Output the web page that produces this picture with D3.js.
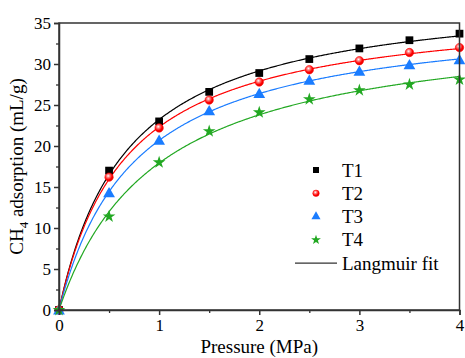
<!DOCTYPE html>
<html><head><meta charset="utf-8">
<script src="https://cdn.jsdelivr.net/npm/d3@7"></script>
<style>body{margin:0;background:#fff}svg{display:block}text{font-family:"Liberation Serif","Times New Roman","DejaVu Serif",serif}</style>
</head><body>
<svg id="c" width="465" height="358"></svg>
<script>
const pressure = [0, 0.5, 1, 1.5, 2, 2.5, 3, 3.5, 4];
const T1 = [0, 17.0, 23.0, 26.6, 28.9, 30.6, 31.9, 32.9, 33.7];
const T2 = [0, 16.2, 22.2, 25.6, 27.8, 29.3, 30.4, 31.4, 32.0];
const T3 = [0, 14.3, 20.7, 24.3, 26.4, 28.0, 29.1, 29.9, 30.5];
const T4 = [0, 11.4, 18.0, 21.8, 24.1, 25.7, 26.8, 27.5, 28.1];
const seriesNames = ["T1", "T2", "T3", "T4"];
const xTicks = [0, 1, 2, 3, 4];
const yTicks = [0, 5, 10, 15, 20, 25, 30, 35];
const colors = ["#000000", "#ff0000", "#1a7cff", "#22a822"];
const symbols = [d3.symbolSquare, d3.symbolCircle, d3.symbolTriangle, d3.symbolStar];
const symSizes = [60, 55, 60, 50];
const allSeries = [T1, T2, T3, T4];

// Langmuir fit V = VL*P/(PL+P), least squares fitted to each measured series
function langmuirFit(vals) {
  let best = null;
  for (let PL = 0.05; PL <= 3; PL += 0.001) {
    let sfv = 0, sff = 0;
    pressure.forEach((p, i) => { const f = p / (PL + p); sfv += f * vals[i]; sff += f * f; });
    const VL = sfv / sff;
    let sse = 0;
    pressure.forEach((p, i) => { const r = vals[i] - VL * p / (PL + p); sse += r * r; });
    if (!best || sse < best.sse) best = {PL, VL, sse};
  }
  return best;
}

const svg = d3.select("#c");
const m = {l: 59, r: 5, t: 23, b: 48};
const W = 465, H = 358;
const x = d3.scaleLinear().domain([0, 4]).range([m.l, W - m.r - 0.5]);
const y = d3.scaleLinear().domain([0, 35]).range([H - m.b, m.t]);

const defs = svg.append("defs");
const g = defs.append("radialGradient").attr("id", "redball").attr("cx", "40%").attr("cy", "35%").attr("r", "65%");
g.append("stop").attr("offset", "0%").attr("stop-color", "#ffffff");
g.append("stop").attr("offset", "30%").attr("stop-color", "#ff8080");
g.append("stop").attr("offset", "70%").attr("stop-color", "#ff0000");
g.append("stop").attr("offset", "100%").attr("stop-color", "#e00000");
const fillFor = i => i === 1 ? "url(#redball)" : colors[i];

// fitted curves
const pGrid = d3.range(0, 4.0001, 0.01);
const line = d3.line().x(d => x(d[0])).y(d => y(d[1]));
allSeries.forEach((s, i) => {
  const fit = langmuirFit(s);
  const pts = pGrid.map(p => [p, fit.VL * p / (fit.PL + p)]);
  svg.append("path").attr("d", line(pts)).attr("fill", "none").attr("stroke", colors[i]).attr("stroke-width", 1.2);
});

// markers
allSeries.forEach((s, i) => {
  const sym = d3.symbol().type(symbols[i]).size(symSizes[i]);
  svg.append("g").selectAll("path").data(s).join("path")
    .attr("d", sym)
    .attr("transform", (d, j) => `translate(${x(pressure[j])},${y(d) + (i === 2 ? 1 : 0)})`)
    .attr("fill", fillFor(i))
    .attr("stroke", i === 1 ? "#ff0000" : "none").attr("stroke-width", 0.6);
});

// frame
svg.append("rect").attr("x", x(0)).attr("y", y(35)).attr("width", x(4) - x(0)).attr("height", y(0) - y(35))
  .attr("fill", "none").attr("stroke", "#333").attr("stroke-width", 1.5);

// axes
const xAxis = d3.axisBottom(x).tickValues(xTicks).tickFormat(d3.format("d")).tickSize(5).tickPadding(4);
const gx = svg.append("g").attr("transform", `translate(0,${y(0)})`).call(xAxis);
gx.select(".domain").attr("stroke", "#333").attr("stroke-width", 1.5);
gx.selectAll(".tick line").attr("stroke", "#333").attr("stroke-width", 1.5);
gx.selectAll("text").attr("font-size", 17).attr("fill", "#000");
const xMinor = d3.axisBottom(x).tickValues([0.5, 1.5, 2.5, 3.5]).tickSize(3).tickFormat("");
const gxm = svg.append("g").attr("transform", `translate(0,${y(0)})`).call(xMinor);
gxm.select(".domain").remove();
gxm.selectAll(".tick line").attr("stroke", "#333").attr("stroke-width", 1.3);

const yAxis = d3.axisLeft(y).tickValues(yTicks).tickFormat(d3.format("d")).tickSize(5).tickPadding(3);
const gy = svg.append("g").attr("transform", `translate(${x(0)},0)`).call(yAxis);
gy.select(".domain").attr("stroke", "#333").attr("stroke-width", 1.5);
gy.selectAll(".tick line").attr("stroke", "#333").attr("stroke-width", 1.5);
gy.selectAll("text").attr("font-size", 17).attr("fill", "#000");
const yMinor = d3.axisLeft(y).tickValues([2.5, 7.5, 12.5, 17.5, 22.5, 27.5, 32.5]).tickSize(3).tickFormat("");
const gym = svg.append("g").attr("transform", `translate(${x(0)},0)`).call(yMinor);
gym.select(".domain").remove();
gym.selectAll(".tick line").attr("stroke", "#333").attr("stroke-width", 1.3);

// axis titles
svg.append("text").attr("x", (x(0) + x(4)) / 2).attr("y", 353).attr("text-anchor", "middle")
  .attr("font-size", 19).text("Pressure (MPa)");
const yt = svg.append("text").attr("transform", `translate(23,${(y(0) + y(35)) / 2}) rotate(-90)`)
  .attr("text-anchor", "middle").attr("font-size", 19);
yt.append("tspan").text("CH");
yt.append("tspan").attr("font-size", 13).attr("dy", 5).text("4");
yt.append("tspan").attr("dy", -5).text(" adsorption (mL/g)");

// legend
const lg = svg.append("g");
const lx = 316, ly0 = 170, dy = 23.3;
seriesNames.forEach((n, i) => {
  const yy = ly0 + i * dy;
  lg.append("path").attr("d", d3.symbol().type(symbols[i]).size(symSizes[i] * 0.6))
    .attr("transform", `translate(${lx},${yy})`).attr("fill", fillFor(i))
    .attr("stroke", i === 1 ? "#ff0000" : "none").attr("stroke-width", 0.5);
  lg.append("text").attr("x", 342).attr("y", yy + 6.5).attr("font-size", 19).text(n);
});
const yl = ly0 + 4 * dy;
lg.append("line").attr("x1", 295).attr("x2", 337).attr("y1", yl).attr("y2", yl).attr("stroke", "#333").attr("stroke-width", 1.3);
lg.append("text").attr("x", 342).attr("y", yl + 6.5).attr("font-size", 19).text("Langmuir fit");
</script>
</body></html>
